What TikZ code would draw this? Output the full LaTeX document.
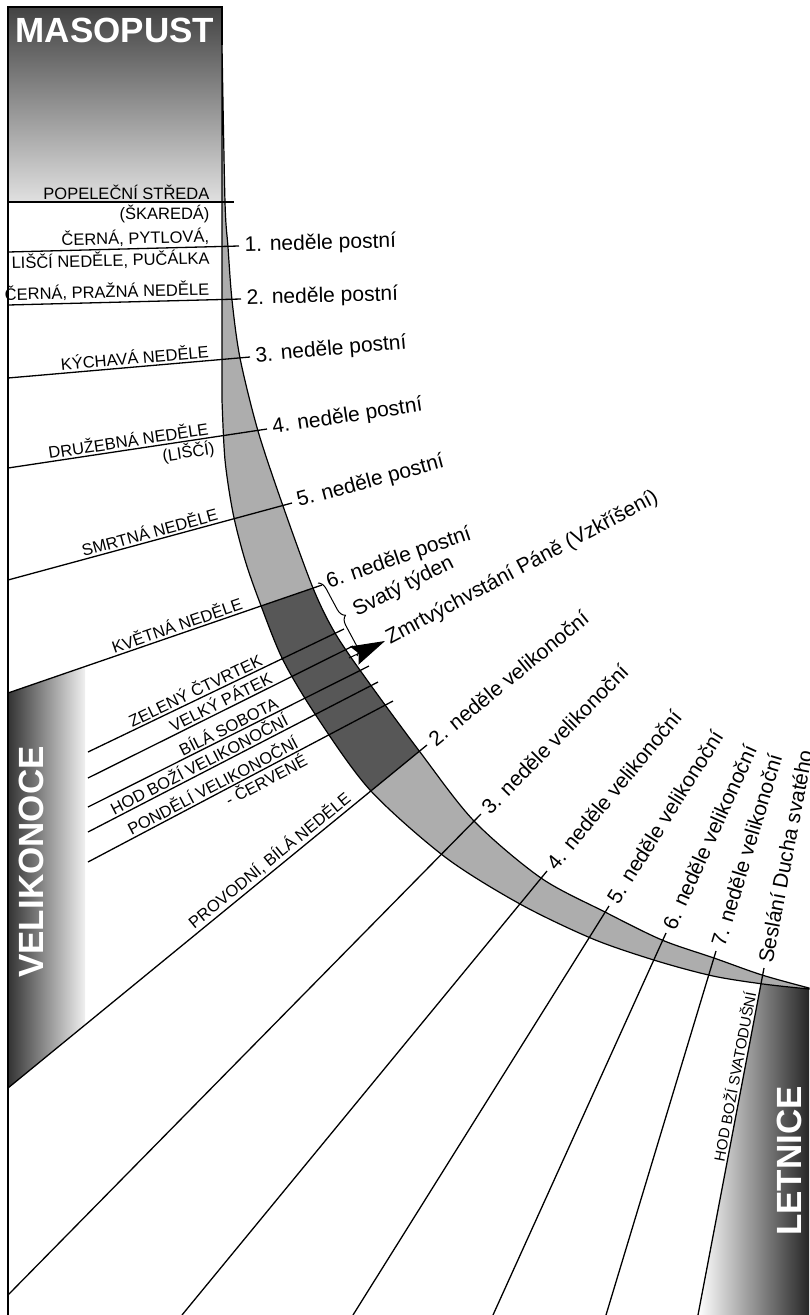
\documentclass[tikz,border=0pt]{standalone}
\usepackage{fontspec}
\setmainfont{Liberation Sans}
\usetikzlibrary{arrows.meta, decorations.pathreplacing}

\begin{document}
\begin{tikzpicture}[x = 1pt, y = -1pt,
  fan/.style = {line width = 1.3pt},
  rim/.style = {line width = 1.2pt},
  lent/.style = {fill = black!32},
  holy/.style = {fill = black!66},
  lbl/.style = {font = \fontsize{16.5}{19}\selectfont, inner sep = 2pt, sloped},
  day/.style = {font = \fontsize{21}{25}\selectfont, inner sep = 5pt, anchor = west},
  season/.style = {font = \fontsize{35}{40}\selectfont\bfseries, text = white, inner sep = 0pt, anchor = base}]

\useasboundingbox (0,0) rectangle (809,1315);

\coordinate (s0) at (8,202);     \coordinate (t0) at (234,202);
\coordinate (s1) at (8,252);     \coordinate (t1) at (239,246);
\coordinate (s2) at (8,305);     \coordinate (t2) at (241,299);
\coordinate (s3) at (8,378);     \coordinate (t3) at (250,357);
\coordinate (s4) at (8,468);     \coordinate (t4) at (267,429);
\coordinate (s5) at (8,580);     \coordinate (t5) at (292,503);
\coordinate (s6) at (8,693);     \coordinate (t6) at (322,585);
\coordinate (d1) at (88,752);    \coordinate (e1) at (344,629);
\coordinate (d2) at (88,778);    \coordinate (e2) at (353,646);
\coordinate (d3) at (88,807);    \coordinate (e3) at (369,666);
\coordinate (d4) at (88,832);    \coordinate (e4) at (378,682);
\coordinate (d5) at (88,862);    \coordinate (e5) at (393,701);
\coordinate (s7) at (8,1088);    \coordinate (t7) at (427,745);
\coordinate (s8) at (8,1295);    \coordinate (t8) at (481,814);
\coordinate (s9) at (182,1315);  \coordinate (t9) at (547,871);
\coordinate (s10) at (353,1315); \coordinate (t10) at (609,906);
\coordinate (s11) at (493,1315); \coordinate (t11) at (666,933);
\coordinate (s12) at (606,1315); \coordinate (t12) at (716,951);
\coordinate (s13) at (698,1315); \coordinate (t13) at (764,968);

% season boxes
\shade[top color = black!74, bottom color = black!12] (8,7) rectangle (222,202);
\shade[left color = black!80, right color = black!6] (s6) -- (85,667) -- (85,1025) -- (s7) -- cycle;
\shade[left color = white, right color = black!85] (761,984) -- (809,989) -- (809,1315) -- (s13) -- cycle;

% the band
\begin{scope}
\clip plot[smooth] coordinates {(222,45) (225,202) (228,247) (232,300) (240,358) (258,431) (283,506) (313,588) (335,633) (367,680) (420,752) (474,821) (541,878) (605,912) (662,940) (714,958) (762,975) (809,988)}
  -- plot[smooth] coordinates {(809,989) (763,984) (713,976) (657,961) (593,939) (520,904) (445,857) (370,790) (317,717) (283,660) (260,603) (245,560) (233,513) (225,460) (222,400)} -- cycle;
\fill[lent] (200,0) rectangle (809,1000);
\fill[holy] (s6) -- (t6) -- (t7) -- (s7) -- cycle;
\end{scope}
\draw[rim] plot[smooth] coordinates {(222,45) (225,202) (228,247) (232,300) (240,358) (258,431) (283,506) (313,588) (335,633) (367,680) (420,752) (474,821) (541,878) (605,912) (662,940) (714,958) (762,975) (809,988)}
  -- plot[smooth] coordinates {(809,989) (763,984) (713,976) (657,961) (593,939) (520,904) (445,857) (370,790) (317,717) (283,660) (260,603) (245,560) (233,513) (225,460) (222,400)} -- cycle;
\draw[rim] (8,1315) -- (8,7) -- (222,7) -- (222,45);

% masopust
\draw[fan] (s0) -- (t0)
  node[lbl, pos = .903, anchor = south east] (popel) {POPELEČNÍ STŘEDA}
  node[lbl, pos = .903, anchor = north east] (skar) {(ŠKAREDÁ)};
\draw[fan] (s1) -- (t1)
  node[lbl, pos = .883, anchor = south east] (pytl) {ČERNÁ, PYTLOVÁ,}
  node[lbl, pos = .883, anchor = north east] (puc) {LIŠČÍ NEDĚLE, PUČÁLKA}
  node[day, pos = 1, sloped] (p1) {1. neděle postní};
\draw[fan] (s2) -- (t2)
  node[lbl, pos = .876, anchor = south east] (prazna) {ČERNÁ, PRAŽNÁ NEDĚLE}
  node[day, pos = 1, sloped] (p2) {2. neděle postní};
\draw[fan] (s3) -- (t3)
  node[lbl, pos = .843, anchor = south east] (kych) {KÝCHAVÁ NEDĚLE}
  node[day, pos = 1, sloped] (p3) {3. neděle postní};
\draw[fan] (s4) -- (t4)
  node[lbl, pos = .788, anchor = south east] (druz) {DRUŽEBNÁ NEDĚLE}
  node[lbl, pos = .8, anchor = north east] (lis) {(LIŠČÍ)}
  node[day, pos = 1, sloped] (p4) {4. neděle postní};
\draw[fan] (s5) -- (t5)
  node[lbl, pos = .754, anchor = south east] (smrt) {SMRTNÁ NEDĚLE}
  node[day, pos = 1, sloped] (p5) {5. neděle postní};
\draw[fan] (s6) -- (t6)
  node[lbl, pos = .761, anchor = south east] (kvet) {KVĚTNÁ NEDĚLE}
  node[day, pos = 1, sloped] (p6) {6. neděle postní};

% svaty tyden
\draw[fan] (d1) -- (e1) node[lbl, pos = .70, anchor = south east] (ctvr) {ZELENÝ ČTVRTEK};
\draw[fan] (d2) -- (e2) node[lbl, pos = .713, anchor = south east] (pat) {VELKÝ PÁTEK};
\draw[fan] (d3) -- (e3) node[lbl, pos = .694, anchor = south east] (sob) {BÍLÁ SOBOTA};
\draw[fan] (d4) -- (e4) node[lbl, pos = .707, anchor = south east] (hodv) {HOD BOŽÍ VELIKONOČNÍ};
\draw[fan] (d5) -- (e5)
  node[lbl, pos = .705, anchor = south east] (pond) {PONDĚLÍ VELIKONOČNÍ}
  node[lbl, pos = .705, anchor = north east] (cerv) {- ČERVENÉ};

\coordinate (br1) at (318,583); \coordinate (br2) at (357,656);
\draw[line width = 1pt, decorate, decoration = {brace, amplitude = 9pt}] (br1) -- (br2);
\node[day, rotate = 27] (svaty) at (350,614) {Svatý týden};
\coordinate (arrtail) at (349,658); \coordinate (arrtip) at (385,641);
\draw[line width = 1pt, -{Stealth[length = 34pt, width = 20pt, inset = 5pt]}] (arrtail) -- (arrtip);
\node[day, rotate = 28, inner sep = 3pt] (vzkr) at (arrtip) {Zmrtvýchvstání Páně (Vzkříšení)};

% velikonoce
\draw[fan] (s7) -- (t7)
  node[lbl, pos = .833, anchor = south east] (prov) {PROVODNÍ, BÍLÁ NEDĚLE}
  node[day, pos = 1, sloped] (v2) {2. neděle velikonoční};
\draw[fan] (s8) -- (t8) node[day, pos = 1, sloped] (v3) {3. neděle velikonoční};
\draw[fan] (s9) -- (t9) node[day, pos = 1, sloped] (v4) {4. neděle velikonoční};
\draw[fan] (s10) -- (t10) node[day, pos = 1, sloped] (v5) {5. neděle velikonoční};
\draw[fan] (s11) -- (t11) node[day, pos = 1, sloped] (v6) {6. neděle velikonoční};
\draw[fan] (s12) -- (t12) node[day, pos = 1, sloped] (v7) {7. neděle velikonoční};
\draw[fan] (s13) -- (t13)
  node[lbl, pos = .933, anchor = south east, font = \fontsize{15}{18}\selectfont] (svatod) {HOD BOŽÍ SVATODUŠNÍ}
  node[day, pos = 1, sloped] (sesl) {Seslání Ducha svatého};

\node[season] (maso) at (115,42) {MASOPUST};
\node[season, rotate = 90] (veli) at (43,862) {VELIKONOCE};
\node[season, rotate = 90] (letn) at (801,1161) {LETNICE};
\end{tikzpicture}
\end{document}
